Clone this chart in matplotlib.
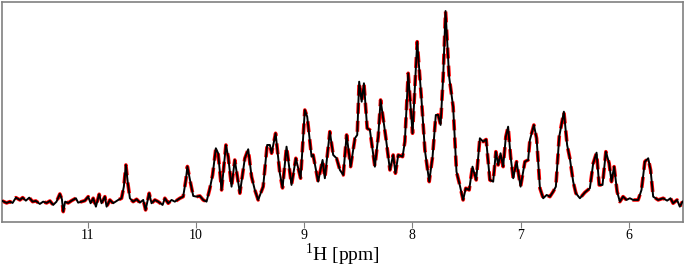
import matplotlib
matplotlib.use("Agg")
import matplotlib.pyplot as plt
import numpy as np

# chemical shift (ppm) and intensity (arbitrary units)
ppm = [11.794, 11.748, 11.718, 11.693, 11.662, 11.625, 11.600, 11.570, 11.539, 11.508,
       11.478, 11.441, 11.410, 11.379, 11.348, 11.318, 11.287, 11.256, 11.237, 11.225,
       11.207, 11.179, 11.148, 11.108, 11.087, 11.055, 11.025, 10.994, 10.972, 10.948,
       10.923, 10.893, 10.871, 10.840, 10.824, 10.794, 10.764, 10.717, 10.686, 10.665,
       10.646, 10.628, 10.609, 10.579, 10.547, 10.517, 10.486, 10.464, 10.431, 10.409,
       10.378, 10.348, 10.307, 10.286, 10.255, 10.224, 10.194, 10.147, 10.117, 10.092,
       10.078, 10.048, 10.024, 9.993, 9.963, 9.932, 9.901, 9.870, 9.845, 9.815,
       9.794, 9.762, 9.722, 9.701, 9.670, 9.640, 9.593, 9.547, 9.516, 9.485,
       9.455, 9.424, 9.378, 9.341, 9.316, 9.300, 9.263, 9.224, 9.199, 9.162,
       9.116, 9.076, 9.032, 8.993, 8.971, 8.931, 8.916, 8.870, 8.829, 8.808,
       8.762, 8.731, 8.700, 8.669, 8.638, 8.607, 8.570, 8.530, 8.509, 8.491,
       8.468, 8.447, 8.417, 8.392, 8.346, 8.315, 8.293, 8.244, 8.207, 8.177,
       8.156, 8.130, 8.090, 8.069, 8.038, 7.998, 7.955, 7.915, 7.884, 7.844,
       7.813, 7.783, 7.761, 7.739, 7.715, 7.693, 7.660, 7.623, 7.592, 7.562,
       7.531, 7.506, 7.475, 7.444, 7.410, 7.376, 7.346, 7.318, 7.284, 7.253,
       7.228, 7.207, 7.185, 7.161, 7.136, 7.115, 7.092, 7.068, 7.037, 7.000,
       6.960, 6.930, 6.914, 6.877, 6.852, 6.821, 6.791, 6.759, 6.729, 6.699,
       6.674, 6.643, 6.600, 6.570, 6.545, 6.514, 6.489, 6.452, 6.406, 6.360,
       6.329, 6.298, 6.274, 6.243, 6.212, 6.182, 6.160, 6.136, 6.108, 6.083,
       6.053, 6.021, 5.991, 5.960, 5.914, 5.883, 5.852, 5.821, 5.799, 5.775,
       5.729, 5.683, 5.646, 5.615, 5.591, 5.554, 5.529, 5.504]
intensity = [21.3, 19, 20.3, 19, 24.3, 22, 24.3, 21.3, 24.3, 20.3,
             21, 18, 20.3, 19, 21, 17, 20.3, 28, 22.7, 10.3,
             20.3, 19, 21.3, 23.7, 19.3, 20.3, 21.3, 25.3, 18.7, 23.7,
             15.3, 27.7, 18.7, 25.3, 15.3, 22, 18.7, 22, 23.7, 35.3,
             57, 38.7, 23.7, 20.3, 22.7, 19.3, 22, 12, 28.7, 18.7,
             22, 20.3, 17, 23.7, 18.7, 22, 20.3, 23.7, 25.3, 42,
             55.5, 38.7, 26, 25.3, 26, 22, 20.3, 33.7, 47, 73.7,
             68.7, 32, 77, 65.3, 35.3, 62, 28.7, 63.7, 72.7, 45.3,
             32, 22, 35.3, 77, 77, 68.7, 88.7, 48.7, 34, 75.3,
             37, 63.7, 43.7, 112, 105.3, 65.3, 67, 40.3, 62, 43.7,
             90.3, 67, 63.7, 52, 47, 87, 55.3, 83.7, 87, 140.3,
             120.3, 138.7, 93.7, 92, 55.3, 85.3, 122, 83.7, 52, 67,
             48.7, 67, 65.3, 80.3, 148.7, 88.7, 180.3, 122, 72, 40.3,
             65.3, 107, 107, 97, 145.3, 211, 145.3, 115.3, 50.3, 37,
             22, 33.7, 32, 55.3, 42, 83.7, 80.3, 82.5, 42, 40.3,
             70.3, 57, 68.7, 55.3, 85.3, 95.3, 65.3, 43.7, 60.3, 35.3,
             60.3, 62, 82, 97, 83.7, 33.7, 23.7, 27, 25.3, 30.3,
             35.3, 85.3, 110.3, 77, 63.7, 40.3, 28.7, 23.7, 29.5, 33.7,
             58.7, 69.3, 37, 37, 70.3, 58.7, 40.3, 55.3, 30.3, 20.3,
             25.3, 22, 23.7, 22, 22, 32, 60.3, 63.7, 52, 25.3,
             22, 23.7, 21.3, 23.7, 18.7, 22, 15.3, 20.3]
xticks = [11, 10, 9, 8, 7, 6]

plt.rcParams['font.family'] = ['Liberation Serif', 'DejaVu Serif']
plt.rcParams['mathtext.fontset'] = 'custom'
plt.rcParams['mathtext.rm'] = 'Liberation Serif'

fig = plt.figure(figsize=(6.85, 2.68), dpi=100)
ax = fig.add_axes([0.003, 0.170, 0.994, 0.8225])

ax.plot(ppm, intensity, color='red', lw=2.6, ls=(0, (3, 2)), zorder=2)
ax.plot(ppm, intensity, color='black', lw=1.4, zorder=3)

ax.set_xlim(11.79, 5.50)
ax.set_ylim(-0.5, 220)
ax.set_xticks(xticks)
ax.set_xticklabels([str(t) for t in xticks])
ax.set_yticks([])
ax.tick_params(axis='x', direction='out', length=4, color='#808080', labelsize=10, pad=0.5)
for s in ax.spines.values():
    s.set_color('#808080')
    s.set_linewidth(1.2)
ax.set_xlabel(r'$^{\mathrm{1}}$H [ppm]', fontsize=14, labelpad=-0.5)

fig.savefig('out.png', dpi=100)
